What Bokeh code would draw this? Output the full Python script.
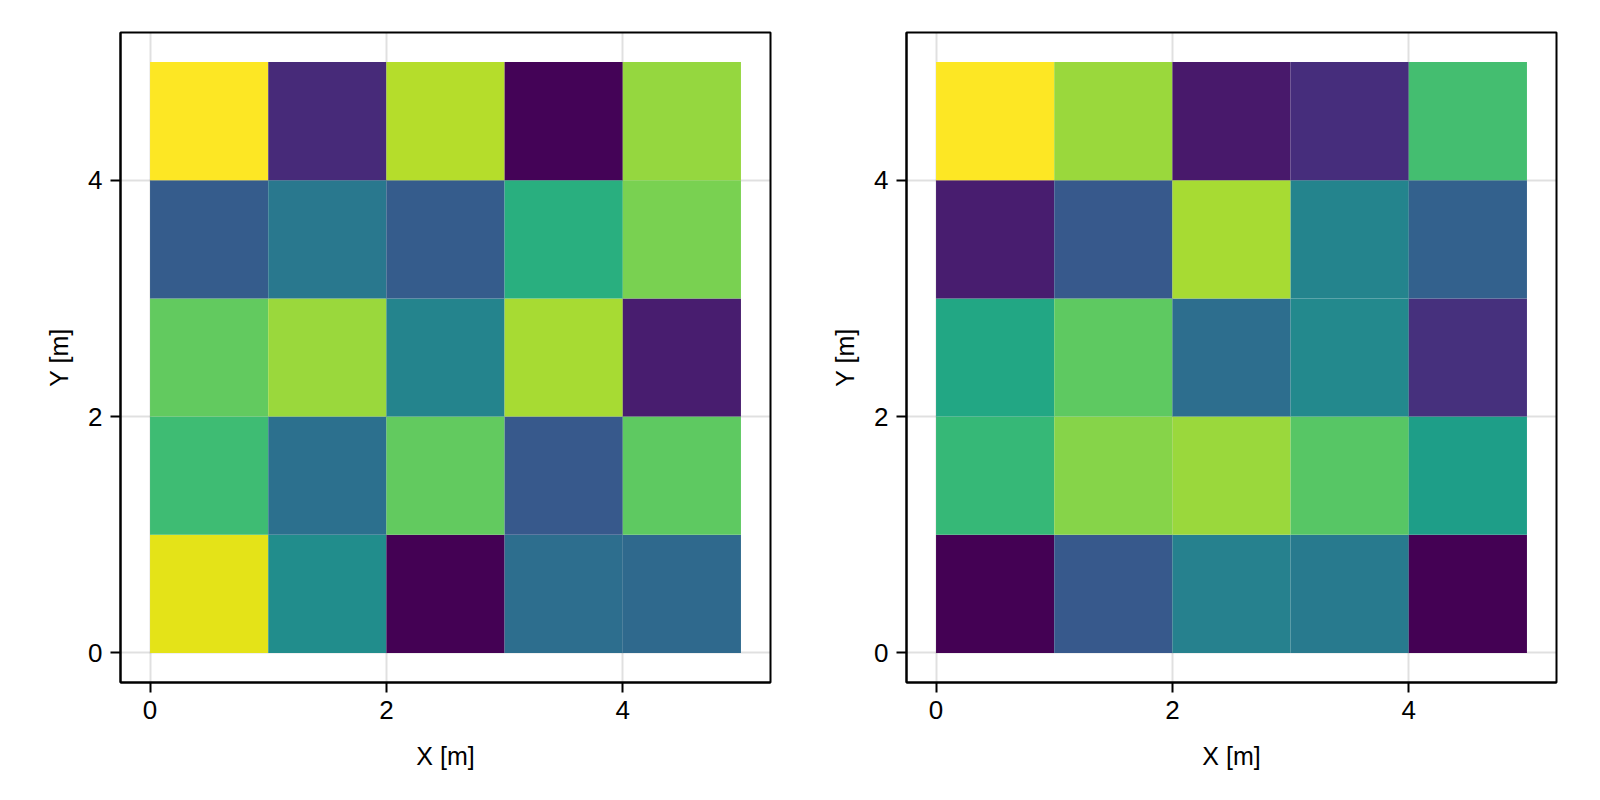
from bokeh.plotting import figure
from bokeh.layouts import row
from bokeh.models import LinearColorMapper, FixedTicker, Range1d, ColumnDataSource
from bokeh.palettes import Viridis256
from bokeh.embed import file_html
from bokeh.resources import INLINE

# grid cell edges
x_edges = [0, 1, 2, 3, 4, 5]
y_edges = [0, 1, 2, 3, 4, 5]
tick_values = [0, 2, 4]

# values, rows from bottom (y=0..1) to top (y=4..5), columns x=0..5
left_values = [
    [0.96, 0.49, 0.00, 0.36, 0.34],
    [0.69, 0.37, 0.76, 0.28, 0.75],
    [0.76, 0.85, 0.45, 0.87, 0.08],
    [0.29, 0.40, 0.29, 0.63, 0.80],
    [1.00, 0.12, 0.89, 0.01, 0.84],
]
right_values = [
    [0.00, 0.28, 0.44, 0.41, 0.00],
    [0.67, 0.82, 0.85, 0.74, 0.56],
    [0.60, 0.75, 0.36, 0.47, 0.14],
    [0.08, 0.28, 0.87, 0.45, 0.31],
    [1.00, 0.85, 0.07, 0.13, 0.70],
]

FONT = "Liberation Sans"


def make_panel(values, border_left, border_right):
    p = figure(width=800, height=800, output_backend="svg", toolbar_location=None,
               x_range=Range1d(-0.25, 5.25), y_range=Range1d(-0.25, 5.25),
               min_border_left=border_left, min_border_right=border_right,
               min_border_top=32, min_border_bottom=118)
    left, right, bottom, top, val = [], [], [], [], []
    for j, rowv in enumerate(values):
        for i, v in enumerate(rowv):
            left.append(x_edges[i]); right.append(x_edges[i + 1])
            bottom.append(y_edges[j]); top.append(y_edges[j + 1])
            val.append(v)
    src = ColumnDataSource(dict(left=left, right=right, bottom=bottom, top=top, val=val))
    flat = [v for r in values for v in r]
    mapper = LinearColorMapper(palette=Viridis256, low=min(flat), high=max(flat))
    p.quad(left="left", right="right", bottom="bottom", top="top", source=src,
           fill_color={"field": "val", "transform": mapper}, line_color=None)

    p.outline_line_color = "black"
    p.outline_line_width = 2
    p.outline_line_alpha = 1
    for ax in (p.xaxis, p.yaxis):
        ax.ticker = FixedTicker(ticks=tick_values)
        ax.minor_tick_line_color = None
        ax.major_tick_in = 0
        ax.major_tick_out = 10
        ax.major_tick_line_width = 2
        ax.major_tick_line_color = "black"
        ax.axis_line_color = "black"
        ax.axis_line_width = 2
        ax.major_label_text_font = FONT
        ax.major_label_text_font_size = "26px"
        ax.major_label_text_color = "black"
        ax.axis_label_text_font = FONT
        ax.axis_label_text_font_size = "25px"
        ax.axis_label_text_font_style = "normal"
        ax.axis_label_text_color = "black"
        ax.major_label_standoff = 8
    p.xaxis.axis_label = "X [m]"
    p.yaxis.axis_label = "Y [m]"
    p.xaxis.axis_label_standoff = 20
    p.yaxis.axis_label_standoff = 12
    p.yaxis.major_label_orientation = "horizontal"
    for g in (p.xgrid, p.ygrid):
        g.ticker = FixedTicker(ticks=tick_values)
        g.grid_line_color = "#000000"
        g.grid_line_alpha = 0.12
        g.grid_line_width = 2
    p.background_fill_color = "white"
    p.border_fill_color = "white"
    return p


p1 = make_panel(left_values, 120, 30)
p2 = make_panel(right_values, 106, 44)
layout = row(p1, p2)
open("out.html", "w").write(file_html(layout, INLINE))
